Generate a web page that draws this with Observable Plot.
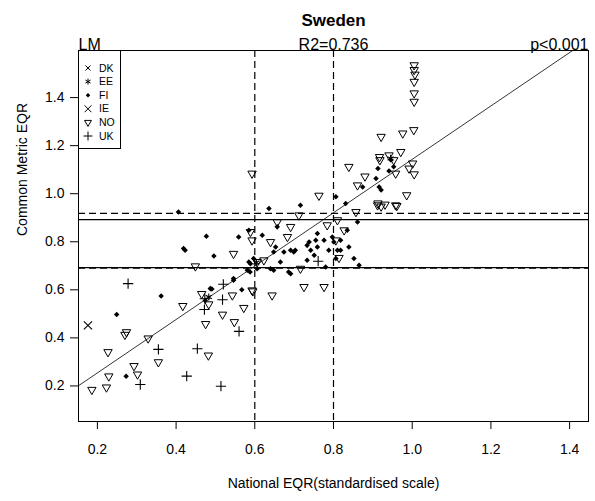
<!DOCTYPE html>
<html><head><meta charset="utf-8">
<script src="https://cdn.jsdelivr.net/npm/d3@7"></script>
<script src="https://cdn.jsdelivr.net/npm/@observablehq/plot@0.6"></script>
<style>
body{margin:0;background:#fff;font-family:"Liberation Sans",Arial,sans-serif;}
#wrap{position:relative;width:595px;height:501px;}
#legend{position:absolute;left:78px;top:50px;}
</style></head><body><div id="wrap"></div>
<script>
const title = "Sweden";
const xLabel = "National EQR(standardised scale)";
const yLabel = "Common Metric EQR";
const modelLabel = "LM";
const r2Label = "R2=0.736";
const pLabel = "p<0.001";
const xTicks = [0.2,0.4,0.6,0.8,1.0,1.2,1.4];
const yTicks = [0.2,0.4,0.6,0.8,1.0,1.2,1.4];
const countries = ["DK","EE","FI","IE","NO","UK"];

// NO (open down-triangles)
const noX = [0.186,0.223,0.229,0.227,0.274,0.270,0.329,0.293,0.302,0.355,0.417,0.465,0.483,0.475,0.482,0.518,0.543,0.548,0.572,0.595,
  0.449,0.546,0.644,0.593,0.839,0.880,0.918,0.763,0.958,0.912,0.712,0.810,0.857,0.657,0.691,0.589,0.640,0.683,0.784,0.827,
  0.593,0.623,0.814,0.716,0.725,0.776,0.593,0.806,0.606,0.921,0.976,1.004,0.917,0.971,1.001,1.005,0.992,0.953,0.958,0.861,
  0.986,0.961,1.005,1.005,1.007,1.005,1.005,1.005,0.913,0.921,0.931,0.941];
const noY = [0.184,0.194,0.240,0.341,0.424,0.413,0.398,0.283,0.248,0.299,0.533,0.583,0.540,0.458,0.327,0.497,0.577,0.466,0.525,0.594,
  0.698,0.750,0.577,1.084,1.112,1.072,1.140,0.992,0.952,0.952,0.910,0.890,0.924,0.882,0.862,0.841,0.799,0.820,0.869,0.848,
  0.806,0.723,0.733,0.688,0.612,0.612,0.598,0.806,0.716,1.237,1.251,1.265,1.153,1.174,1.126,1.081,1.105,1.140,1.084,1.035,
  0.994,0.949,1.535,1.515,1.496,1.466,1.418,1.383,0.960,0.947,0.955,1.160];

// FI (small filled dots)
const fiX = [0.362,0.249,0.273,0.491,0.546,0.567,0.588,0.474,0.496,0.423,0.406,0.477,0.419,0.559,0.585,0.487,0.716,0.636,0.806,0.831,
  0.874,0.908,0.916,0.921,0.657,0.619,0.653,0.674,0.665,0.640,0.691,0.703,0.733,0.755,0.759,0.742,0.776,0.797,0.788,0.839,
  0.852,0.780,0.865,0.589,0.546,0.733,0.806,0.835,0.861,0.585,0.648,0.738,0.751,0.818,0.691,0.686,0.597,0.581,0.648,0.818,
  0.759,0.941,0.946,0.913,0.953,0.801,0.810,0.699,0.606];
const fiY = [0.574,0.497,0.240,0.603,0.640,0.600,0.674,0.556,0.741,0.765,0.924,0.823,0.772,0.820,0.716,0.605,0.952,0.938,0.987,0.959,
  1.028,1.063,1.028,1.015,0.862,0.827,0.778,0.757,0.716,0.688,0.667,0.765,0.785,0.806,0.778,0.765,0.806,0.820,0.765,0.778,
  0.730,0.695,0.702,0.709,0.647,0.723,0.730,0.848,0.882,0.848,0.757,0.799,0.744,0.806,0.765,0.674,0.730,0.681,0.681,0.765,
  0.834,1.095,1.140,1.105,1.112,0.799,0.765,0.757,0.688];

// UK (plus)
const ukX = [0.278,0.520,0.518,0.472,0.473,0.560,0.355,0.454,0.427,0.309,0.514,0.761];
const ukY = [0.626,0.623,0.559,0.518,0.563,0.427,0.352,0.355,0.241,0.206,0.199,0.719];

// IE (times)
const ieX = [0.176];
const ieY = [0.452];

// EE (asterisk)
const eeX = [0.483,0.604,0.945];
const eeY = [0.570,0.714,1.147];

// reference lines
const fitIntercept = 0.032;
const fitSlope = 1.111;
const hSolid = [0.892, 0.692];
const hDashed = [0.918, 0.690];
const vDashed = [0.6, 0.8];

const toRows = (xs, ys, c) => xs.map((x, i) => ({x, y: ys[i], country: c}));
const noPts = toRows(noX, noY, "NO");
const fiPts = toRows(fiX, fiY, "FI");
const ukPts = toRows(ukX, ukY, "UK");
const iePts = toRows(ieX, ieY, "IE");
const eePts = toRows(eeX, eeY, "EE");

const xDomain = [0.152, 1.448];
const yDomain = [0.052, 1.596];
const fitLine = xDomain.map(x => ({x, y: fitIntercept + fitSlope * x}));
const font = "Liberation Sans, Arial, sans-serif";
const fmt = d3.format(".1f");

const chart = Plot.plot({
  width: 595, height: 501,
  marginLeft: 78, marginRight: 7, marginTop: 50, marginBottom: 80,
  style: {fontFamily: font, fontSize: "14px", color: "#000", background: "#fff"},
  x: {domain: xDomain},
  y: {domain: yDomain},
  marks: [
    Plot.axisX(xTicks, {tickSize: 8, tickPadding: 15, tickFormat: fmt, label: null, fontSize: 14}),
    Plot.axisY(yTicks, {tickSize: 8, tickPadding: 6, tickFormat: fmt, label: null, fontSize: 14}),
    Plot.dot(noPts, {x: "x", y: "y", symbol: "triangle2", rotate: 180, r: 4, stroke: "#000", fill: "none", strokeWidth: 1}),
    Plot.dot(fiPts, {x: "x", y: "y", symbol: "square", rotate: 45, r: 2.2, fill: "#000", stroke: "none"}),
    Plot.dot(ukPts, {x: "x", y: "y", symbol: "plus", r: 3.4, stroke: "#000", strokeWidth: 1.1}),
    Plot.dot(iePts, {x: "x", y: "y", symbol: "times", r: 3.8, stroke: "#000", strokeWidth: 1.1}),
    Plot.dot(eePts, {x: "x", y: "y", symbol: "asterisk", r: 3.3, stroke: "#000", strokeWidth: 1.1}),
    Plot.ruleY(hSolid, {stroke: "#000", strokeWidth: 1.2}),
    Plot.ruleY(hDashed, {stroke: "#000", strokeWidth: 1.2, strokeDasharray: "7,4"}),
    Plot.ruleX(vDashed, {stroke: "#000", strokeWidth: 1.2, strokeDasharray: "7,4"}),
    Plot.line(fitLine, {x: "x", y: "y", stroke: "#000", strokeWidth: 0.8, clip: true}),
    Plot.frame({stroke: "#000", strokeWidth: 1}),
    Plot.text([title], {text: d => d, frameAnchor: "top", dy: -37, fontWeight: "bold", fontSize: 17}),
    Plot.text([modelLabel], {text: d => d, frameAnchor: "top-left", textAnchor: "start", lineAnchor: "bottom", dy: -1, fontSize: 16}),
    Plot.text([r2Label], {text: d => d, frameAnchor: "top", lineAnchor: "bottom", dy: -1, fontSize: 16}),
    Plot.text([pLabel], {text: d => d, frameAnchor: "top-right", textAnchor: "end", lineAnchor: "bottom", dy: -1, fontSize: 16}),
    Plot.text([xLabel], {text: d => d, frameAnchor: "bottom", dy: 66, fontSize: 14}),
    Plot.text([yLabel], {text: d => d, frameAnchor: "left", dx: -56, rotate: -90, fontSize: 14})
  ]
});
const wrap = document.getElementById("wrap");
wrap.appendChild(chart);

// legend overlay
const legendSymbols = {
  DK: {type: d3.symbolTimes, r: 2.4, fill: "none", stroke: "#000", rot: 0},
  EE: {type: d3.symbolAsterisk, r: 2.8, fill: "none", stroke: "#000", rot: 0},
  FI: {type: d3.symbolSquare, r: 1.8, fill: "#000", stroke: "none", rot: 45},
  IE: {type: d3.symbolTimes, r: 3.2, fill: "none", stroke: "#000", rot: 0},
  NO: {type: d3.symbolTriangle2, r: 3.3, fill: "none", stroke: "#000", rot: 180},
  UK: {type: d3.symbolPlus, r: 3.0, fill: "none", stroke: "#000", rot: 0}
};
const lw = 43, lh = 99;
const leg = d3.select(wrap).append("svg").attr("id", "legend").attr("width", lw).attr("height", lh);
leg.append("rect").attr("x", 0.5).attr("y", 0.5).attr("width", lw - 1).attr("height", lh - 1)
  .attr("fill", "#fff").attr("stroke", "#000");
countries.forEach((c, i) => {
  const s = legendSymbols[c];
  const cy = 18 + i * 13.6;
  leg.append("path").attr("d", d3.symbol(s.type, Math.PI * s.r * s.r)())
    .attr("transform", `translate(10,${cy}) rotate(${s.rot})`)
    .attr("fill", s.fill).attr("stroke", s.stroke).attr("stroke-width", 1);
  leg.append("text").attr("x", 21).attr("y", cy).attr("dy", "0.35em")
    .attr("font-family", font).attr("font-size", 10.5).attr("fill", "#000").text(c);
});
</script></body></html>
